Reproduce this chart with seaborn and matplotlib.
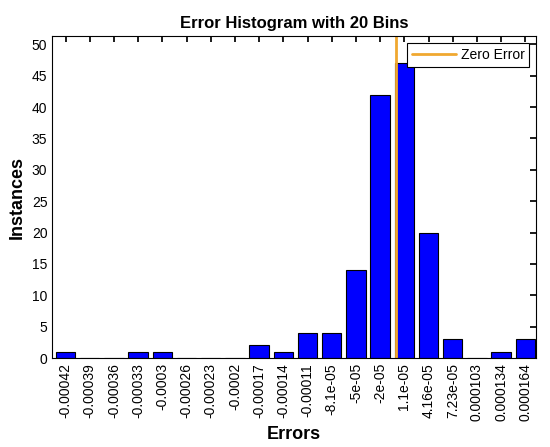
import matplotlib
matplotlib.use("Agg")
import matplotlib.pyplot as plt
import pandas as pd
import seaborn as sns

# Bin centre labels as printed under each bar
bin_labels = [
    "-0.00042", "-0.00039", "-0.00036", "-0.00033", "-0.0003",
    "-0.00026", "-0.00023", "-0.0002", "-0.00017", "-0.00014",
    "-0.00011", "-8.1e-05", "-5e-05", "-2e-05", "1.1e-05",
    "4.16e-05", "7.23e-05", "0.000103", "0.000134", "0.000164",
]
bin_centres = [
    -0.00042, -0.00039, -0.00036, -0.00033, -0.0003,
    -0.00026, -0.00023, -0.0002, -0.00017, -0.00014,
    -0.00011, -8.1e-05, -5e-05, -2e-05, 1.1e-05,
    4.16e-05, 7.23e-05, 0.000103, 0.000134, 0.000164,
]
counts = [1, 0, 0, 1, 1, 0, 0, 0, 2, 1, 4, 4, 14, 42, 47, 20, 3, 0, 1, 3]
zero_error = 0.0

sns.set_theme(style="white")
plt.rcParams["font.family"] = ["Liberation Sans", "DejaVu Sans"]
plt.rcParams["text.color"] = "black"
plt.rcParams["axes.labelcolor"] = "black"
plt.rcParams["xtick.color"] = "black"
plt.rcParams["ytick.color"] = "black"

df = pd.DataFrame({"bin": bin_labels, "count": counts})

fig = plt.figure(figsize=(5.5, 4.47), dpi=100)
ax = fig.add_axes([0.095, 0.199, 0.88, 0.72])

sns.barplot(data=df, x="bin", y="count", order=bin_labels, color="#0000FF",
            saturation=1, width=0.8, edgecolor="black", linewidth=0.8, ax=ax)

# Place the zero line between the two neighbouring bin centres
i = 13
frac = (zero_error - bin_centres[i]) / (bin_centres[i + 1] - bin_centres[i])
ax.axvline(i + frac, color="#F0A830", linewidth=2, label="Zero Error")

ax.set_xlim(-0.55, 19.45)
ax.set_ylim(0, 51.3)
ax.set_yticks(range(0, 51, 5))
ax.tick_params(axis="x", rotation=90, labelsize=10, direction="in",
               top=True, length=4, color="black")
ax.tick_params(axis="y", labelsize=10, direction="in", right=True,
               length=4, color="black")
for spine in ax.spines.values():
    spine.set_color("black")
    spine.set_linewidth(0.8)

ax.set_title("Error Histogram with 20 Bins", fontsize=12, fontweight="bold")
ax.set_xlabel("Errors", fontsize=13, fontweight="bold", labelpad=4)
ax.set_ylabel("Instances", fontsize=13, fontweight="bold", labelpad=4)

leg = ax.legend(loc="upper right", fancybox=False, framealpha=1,
                edgecolor="black", fontsize=10, borderaxespad=0.5,
                handlelength=3.2, handletextpad=0.3, borderpad=0.35)
leg.get_frame().set_linewidth(0.8)

fig.savefig("out.png", dpi=100)
